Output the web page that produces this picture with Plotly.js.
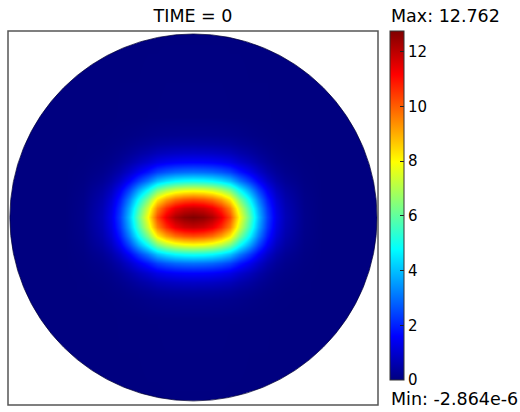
<!DOCTYPE html>
<html>
<head>
<meta charset="utf-8">
<script src="https://cdn.plot.ly/plotly-3.0.1.min.js"></script>
<style>html,body{margin:0;padding:0;background:#fff;}#chart{width:520px;height:412px;}</style>
</head>
<body>
<div id="chart"></div>
<script>
// Grid positions (disk of radius 1 centred at origin)
const xCenters = [-1.05,-0.7,-0.6,-0.5,-0.45,-0.4,-0.35,-0.3,-0.25,-0.2,-0.15,-0.1,-0.05,0,0.05,0.1,0.15,0.2,0.25,0.3,0.35,0.4,0.45,0.5,0.6,0.7,1.05];
const yCenters = [-1.05,-0.55,-0.45,-0.4,-0.35,-0.3,-0.25,-0.2,-0.15,-0.1,-0.05,0,0.05,0.1,0.15,0.2,0.25,0.3,0.35,0.4,0.45,0.55,1.05];

// Field values, one row per y position
const rowOuter = [0,0,0,0,0,0,0,0,0,0,0,0,0,0,0,0,0,0,0,0,0,0,0,0,0,0,0];
const rowY055 = [0,0,0,0,0,0.01,0.01,0.01,0.02,0.02,0.03,0.03,0.03,0.03,0.03,0.03,0.03,0.02,0.02,0.01,0.01,0.01,0,0,0,0,0];
const rowY045 = [0,0,0,0.01,0.02,0.04,0.06,0.09,0.13,0.16,0.18,0.19,0.2,0.2,0.2,0.19,0.18,0.16,0.13,0.09,0.06,0.04,0.02,0.01,0,0,0];
const rowY040 = [0,0,0.01,0.02,0.05,0.08,0.14,0.21,0.28,0.36,0.4,0.43,0.44,0.45,0.44,0.43,0.4,0.36,0.28,0.21,0.14,0.08,0.05,0.02,0.01,0,0];
const rowY035 = [0,0,0.01,0.05,0.09,0.17,0.28,0.42,0.56,0.72,0.8,0.86,0.89,0.9,0.89,0.86,0.8,0.72,0.56,0.42,0.28,0.17,0.09,0.05,0.01,0,0];
const rowY030 = [0,0,0.02,0.09,0.16,0.3,0.5,0.75,1.0,1.28,1.43,1.53,1.58,1.6,1.58,1.53,1.43,1.28,1.0,0.75,0.5,0.3,0.16,0.09,0.02,0,0];
const rowY025 = [0,0,0.04,0.16,0.31,0.56,0.94,1.41,1.88,2.4,2.68,2.87,2.96,3.0,2.96,2.87,2.68,2.4,1.88,1.41,0.94,0.56,0.31,0.16,0.04,0,0];
const rowY020 = [0,0,0.06,0.27,0.51,0.94,1.57,2.35,3.14,4.0,4.47,4.78,4.94,5.0,4.94,4.78,4.47,4.0,3.14,2.35,1.57,0.94,0.51,0.27,0.06,0,0];
const rowY015 = [0,0,0.09,0.43,0.79,1.47,2.44,3.67,4.89,6.23,6.97,7.45,7.7,7.8,7.7,7.45,6.97,6.23,4.89,3.67,2.44,1.47,0.79,0.43,0.09,0,0];
const rowY010 = [0,0,0.12,0.56,1.04,1.92,3.2,4.79,6.39,8.15,9.11,9.75,10.07,10.2,10.07,9.75,9.11,8.15,6.39,4.79,3.2,1.92,1.04,0.56,0.12,0,0];
const rowY005 = [0,0,0.14,0.65,1.21,2.24,3.73,5.6,7.46,9.52,10.64,11.38,11.76,11.9,11.76,11.38,10.64,9.52,7.46,5.6,3.73,2.24,1.21,0.65,0.14,0,0];
const rowY000 = [0,0,0.15,0.7,1.3,2.4,4.0,6.0,8.0,10.2,11.4,12.2,12.6,12.762,12.6,12.2,11.4,10.2,8.0,6.0,4.0,2.4,1.3,0.7,0.15,0,0];

const zValues = [rowOuter,rowY055,rowY045,rowY040,rowY035,rowY030,rowY025,rowY020,rowY015,rowY010,rowY005,rowY000,
                 rowY005,rowY010,rowY015,rowY020,rowY025,rowY030,rowY035,rowY040,rowY045,rowY055,rowOuter];

const zMin = -2.864e-6;
const zMax = 12.762;
const tickValues = [0,2,4,6,8,10,12];
const titleText = 'TIME = 0';
const maxText = 'Max: 12.762';
const minText = 'Min: -2.864e-6';
const diskRadius = 1;

const jet = [[0,'#000080'],[0.125,'#0000ff'],[0.375,'#00ffff'],[0.625,'#ffff00'],[0.875,'#ff0000'],[1,'#800000']];
const FONT = 'DejaVu Sans, Verdana, sans-serif';

const trace = {
  type: 'heatmap',
  x: xCenters, y: yCenters, z: zValues,
  zsmooth: 'best',
  zmin: zMin, zmax: zMax,
  colorscale: jet,
  hoverinfo: 'skip',
  colorbar: {
    thickness: 14, thicknessmode: 'pixels',
    len: 349, lenmode: 'pixels',
    x: 1.033, xanchor: 'left', xpad: 0,
    y: 1, yanchor: 'top', ypad: 0,
    outlinewidth: 1, outlinecolor: '#333',
    tickmode: 'array', tickvals: tickValues,
    ticks: 'inside', ticklen: 4, tickcolor: '#222', tickwidth: 1,
    tickfont: {family: FONT, size: 15, color: '#000'}
  }
};

const maskWidthPx = 92;
const layout = {
  width: 520, height: 412,
  margin: {l: 8, r: 142, t: 31, b: 7, pad: 0},
  paper_bgcolor: '#fff', plot_bgcolor: '#fff',
  font: {family: FONT, color: '#000'},
  title: {text: titleText, font: {family: FONT, size: 17.5, color: '#000'},
          x: 0.5, xref: 'paper', xanchor: 'center', y: 0.962, yref: 'container', yanchor: 'middle'},
  xaxis: {range: [-1.01, 1.005], visible: false, fixedrange: true},
  yaxis: {range: [-1.022, 1.016], visible: false, fixedrange: true},
  shapes: [
    {type: 'circle', xref: 'x', yref: 'y', x0: -1.25, x1: 1.25, y0: -1.25, y1: 1.25,
     line: {color: '#ffffff', width: maskWidthPx}, fillcolor: 'rgba(0,0,0,0)', layer: 'above'},
    {type: 'circle', xref: 'x', yref: 'y', x0: -diskRadius, x1: diskRadius, y0: -diskRadius, y1: diskRadius,
     line: {color: 'rgba(0,0,50,0.7)', width: 1}, fillcolor: 'rgba(0,0,0,0)', layer: 'above'},
    {type: 'rect', xref: 'paper', yref: 'paper', x0: 0, x1: 1, y0: 0, y1: 1,
     line: {color: '#555', width: 1.5}, fillcolor: 'rgba(0,0,0,0)', layer: 'above'}
  ],
  annotations: [
    {text: maxText, xref: 'paper', yref: 'paper', x: 1.03, y: 1.04, xanchor: 'left', yanchor: 'middle',
     showarrow: false, font: {family: FONT, size: 17.5, color: '#000'}},
    {text: minText, xref: 'paper', yref: 'paper', x: 1.03, y: 0.017, xanchor: 'left', yanchor: 'middle',
     showarrow: false, font: {family: FONT, size: 17.5, color: '#000'}}
  ]
};

Plotly.newPlot('chart', [trace], layout, {staticPlot: true, displayModeBar: false});
</script>
</body>
</html>
